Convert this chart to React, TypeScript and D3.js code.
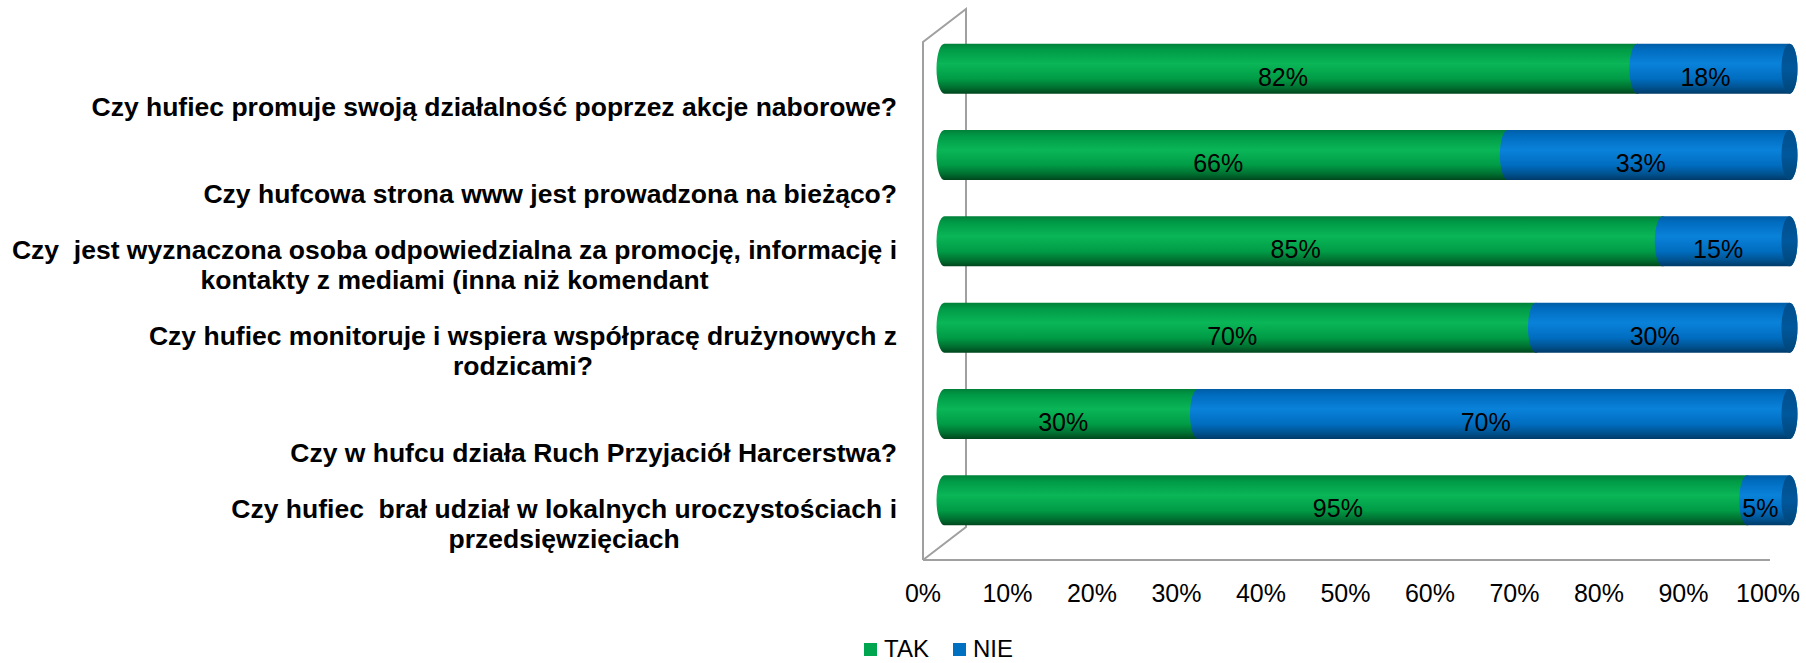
import React, { useEffect, useRef } from 'react';
import * as d3 from 'd3';

// questions, one array of lines per category (top to bottom)
const categories: string[][] = [
  ['Czy hufiec promuje swoją działalność poprzez akcje naborowe?'],
  ['Czy hufcowa strona www jest prowadzona na bieżąco?'],
  ['Czy  jest wyznaczona osoba odpowiedzialna za promocję, informację i', 'kontakty z mediami (inna niż komendant'],
  ['Czy hufiec monitoruje i wspiera współpracę drużynowych z', 'rodzicami?'],
  ['Czy w hufcu działa Ruch Przyjaciół Harcerstwa?'],
  ['Czy hufiec  brał udział w lokalnych uroczystościach i', 'przedsięwzięciach'],
];
const takValues = [82, 66, 85, 70, 30, 95];
const nieValues = [18, 33, 15, 30, 70, 5];
const seriesNames = ['TAK', 'NIE'];
const tickValues = [0, 10, 20, 30, 40, 50, 60, 70, 80, 90, 100];

const FONT = '"Liberation Sans", Arial, sans-serif';

const App = () => {
  const ref = useRef<SVGSVGElement | null>(null);

  useEffect(() => {
    const svg = d3.select(ref.current);
    svg.selectAll('*').remove();

    // front plane of the 3D box, depth offset to the back plane
    const left = 923, right = 1768, top = 42, bottom = 560;
    const dx = 43, dy = -33;
    const midX = dx / 2, midY = dy / 2;

    const x = d3.scaleLinear().domain([0, 100]).range([left, right]);
    const y = d3.scaleBand<number>()
      .domain(d3.range(categories.length))
      .range([top, bottom]);

    const defs = svg.append('defs');
    const grad = (id: string, stops: [number, string][]) => {
      const g = defs.append('linearGradient').attr('id', id)
        .attr('x1', 0).attr('y1', 0).attr('x2', 0).attr('y2', 1);
      stops.forEach(([o, c]) => g.append('stop').attr('offset', o).attr('stop-color', c));
    };
    grad('g-tak', [[0, '#00803a'], [0.12, '#009a46'], [0.4, '#0ab657'], [0.7, '#009c46'], [0.88, '#006f30'], [1, '#00461d']]);
    grad('g-nie', [[0, '#005da6'], [0.12, '#006cbf'], [0.4, '#0a82da'], [0.7, '#006dc0'], [0.88, '#00528f'], [1, '#003a68']]);
    grad('g-cap', [[0, '#004e8c'], [0.5, '#00589c'], [1, '#004578']]);

    // walls
    const wall = svg.append('g').attr('fill', 'none').attr('stroke', '#a0a0a0').attr('stroke-width', 2);
    wall.append('path')
      .attr('d', `M${left},${bottom}L${left},${top}L${left + dx},${top + dy}L${left + dx},${bottom + dy}L${left},${bottom}`);
    wall.append('line')
      .attr('x1', left).attr('x2', right + 2).attr('y1', bottom).attr('y2', bottom);

    // stacked cylinders
    const barH = y.bandwidth() * 0.58;
    const ry = barH / 2, rx = 8;
    const fills = ['url(#g-tak)', 'url(#g-nie)'];

    categories.forEach((_, i) => {
      const total = takValues[i] + nieValues[i];
      const vals = [takValues[i], nieValues[i]];
      const cy = (y(i) as number) + y.bandwidth() / 2 + midY;
      let acc = 0;
      const g = svg.append('g');
      vals.forEach((v, s) => {
        const x0 = x((acc / total) * 100) + midX;
        const x1 = x(((acc + v) / total) * 100) + midX;
        acc += v;
        g.append('path')
          .attr('fill', fills[s])
          .attr('d', `M${x0},${cy - ry}L${x1},${cy - ry}A${rx},${ry} 0 0 1 ${x1},${cy + ry}L${x0},${cy + ry}A${rx},${ry} 0 0 1 ${x0},${cy - ry}Z`);
      });
      g.append('ellipse')
        .attr('cx', x(100) + midX).attr('cy', cy).attr('rx', rx).attr('ry', ry)
        .attr('fill', 'url(#g-cap)');

      // data labels
      acc = 0;
      vals.forEach((v) => {
        const c = x(((acc + v / 2) / total) * 100) + midX - 8;
        acc += v;
        g.append('text')
          .attr('x', c).attr('y', cy + 8)
          .attr('text-anchor', 'middle').attr('dominant-baseline', 'central')
          .attr('font-family', FONT).attr('font-size', 25).attr('fill', '#000')
          .text(`${v}%`);
      });
    });

    // category labels: centred block, right edge at 897
    categories.forEach((lines, i) => {
      const baseY = (y(i) as number) + y.bandwidth() / 2 + 22;
      const g = svg.append('g')
        .attr('font-family', FONT).attr('font-size', 26.5).attr('font-weight', 'bold');
      const texts = lines.map((l, k) => g.append('text')
        .attr('y', baseY - (lines.length - 1 - k) * 30)
        .attr('dominant-baseline', 'central')
        .attr('text-anchor', 'middle')
        .attr('xml:space', 'preserve')
        .style('white-space', 'pre')
        .text(l.replace(/  /g, '\u00a0 ')));
      const maxW = d3.max(texts, (t) => (t.node() as SVGTextElement).getComputedTextLength()) || 0;
      texts.forEach((t) => t.attr('x', 897 - maxW / 2));
    });

    // x axis labels
    svg.append('g')
      .attr('font-family', FONT).attr('font-size', 25)
      .selectAll('text')
      .data(tickValues)
      .join('text')
      .attr('x', (d) => x(d))
      .attr('y', 602)
      .attr('text-anchor', 'middle')
      .text((d) => `${d}%`);

    // legend
    const legendColors = ['#00a54f', '#0070c0'];
    const legendX = [864, 953];
    const lg = svg.append('g').attr('font-family', FONT).attr('font-size', 24);
    seriesNames.forEach((n, k) => {
      lg.append('rect').attr('x', legendX[k]).attr('y', 643).attr('width', 13).attr('height', 13)
        .attr('fill', legendColors[k]);
      lg.append('text').attr('x', legendX[k] + 20).attr('y', 657).text(n);
    });

    return () => {
      svg.selectAll('*').remove();
    };
  }, []);

  return (
    <svg
      ref={ref}
      width={1806}
      height={663}
      style={{ position: 'absolute', left: 0, top: 0, background: '#fff' }}
    />
  );
};

export default App;
